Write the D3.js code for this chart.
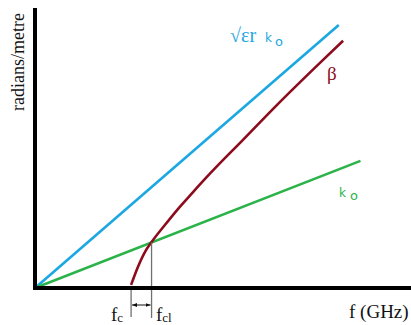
<!DOCTYPE html>
<html>
<head>
<meta charset="utf-8">
<script src="https://cdn.jsdelivr.net/npm/d3@7"></script>
<style>
  html, body { margin: 0; padding: 0; background: #fff; }
  svg { display: block; }
</style>
</head>
<body>
<svg id="chart" width="411" height="325"></svg>
<script>
// Dispersion diagram: free-space wavenumber, dielectric-scaled wavenumber and guide β
const lineK0 = [[0, 0], [10.5, 4.54]];              // k0
const lineSqrtErK0 = [[0, 0], [9.8, 9.39]];          // √εr k0
const betaCurve = [                                   // β (f, rad/m)
  [3.10, 0.11], [3.32, 0.75], [3.55, 1.29], [3.76, 1.64],
  [4.19, 2.25], [4.61, 2.82], [5.07, 3.39], [5.65, 4.09],
  [6.71, 5.29], [7.81, 6.54], [9.26, 8.11], [9.94, 8.83]
];
const fc = 3.10;      // cutoff frequency
const fc1 = 3.76;     // crossing of β and k0
const xLabel = "f (GHz)";
const yLabel = "radians/metre";

const svg = d3.select("#chart");

const x = d3.scaleLinear().domain([0, 12.13]).range([35, 411]);
const y = d3.scaleLinear().domain([0, 10]).range([288, 8]);

const blue = "#1ba7e2", red = "#8c0b1c", green = "#2bb34a";

const line = d3.line().x(d => x(d[0])).y(d => y(d[1]));

// data lines
svg.append("path").datum(lineSqrtErK0).attr("d", line)
  .attr("fill", "none").attr("stroke", blue).attr("stroke-width", 2.6);
svg.append("path").datum(lineK0).attr("d", line)
  .attr("fill", "none").attr("stroke", green).attr("stroke-width", 2.6);
svg.append("path").datum(betaCurve).attr("d", line.curve(d3.curveMonotoneX))
  .attr("fill", "none").attr("stroke", red).attr("stroke-width", 2.6);

// marker lines for fc and fc1
const k0At = f => lineK0[1][1] / lineK0[1][0] * f;
svg.append("line")
  .attr("x1", x(fc1)).attr("x2", x(fc1))
  .attr("y1", y(k0At(fc1))).attr("y2", 318)
  .attr("stroke", "#707070").attr("stroke-width", 1.3);
svg.append("line")
  .attr("x1", x(fc)).attr("x2", x(fc))
  .attr("y1", 290).attr("y2", 317)
  .attr("stroke", "#707070").attr("stroke-width", 1.3);

// double-headed dimension arrow
const defs = svg.append("defs");
defs.append("marker").attr("id", "ah").attr("viewBox", "0 0 10 10")
  .attr("refX", 10).attr("refY", 5).attr("markerWidth", 5).attr("markerHeight", 5)
  .attr("orient", "auto-start-reverse")
  .append("path").attr("d", "M0,1 L10,5 L0,9 Z").attr("fill", "#111");
svg.append("line")
  .attr("x1", x(fc) + 1).attr("x2", x(fc1) - 1)
  .attr("y1", 305).attr("y2", 305)
  .attr("stroke", "#111").attr("stroke-width", 1)
  .attr("marker-start", "url(#ah)").attr("marker-end", "url(#ah)");

// axes
svg.append("line").attr("x1", 33).attr("x2", 411).attr("y1", y(0)).attr("y2", y(0))
  .attr("stroke", "#000").attr("stroke-width", 4);
svg.append("line").attr("x1", x(0)).attr("x2", x(0)).attr("y1", 8).attr("y2", 290)
  .attr("stroke", "#000").attr("stroke-width", 4);

// axis titles
const serif = "'Liberation Serif', 'Times New Roman', serif";
svg.append("text").text(yLabel)
  .attr("transform", "translate(24,62) rotate(-90)")
  .attr("text-anchor", "middle")
  .attr("font-family", serif).attr("font-size", 18).attr("fill", "#111");
svg.append("text").text(xLabel)
  .attr("x", 349).attr("y", 318)
  .attr("font-family", serif).attr("font-size", 19).attr("fill", "#111");

// fc labels
const fcText = svg.append("text").attr("x", 111).attr("y", 321)
  .attr("font-family", serif).attr("font-size", 19).attr("fill", "#111");
fcText.append("tspan").text("f");
fcText.append("tspan").text("c").attr("font-size", 13).attr("dy", 1);
const fc1Text = svg.append("text").attr("x", 156).attr("y", 321)
  .attr("font-family", serif).attr("font-size", 19).attr("fill", "#111");
fc1Text.append("tspan").text("f");
fc1Text.append("tspan").text("cl").attr("font-size", 13).attr("dy", 1);

// series labels
const sans = "'DejaVu Sans', Verdana, sans-serif";
svg.append("text").text("√εr").attr("x", 230).attr("y", 42)
  .attr("font-family", serif).attr("font-size", 20).attr("fill", blue);
svg.append("text").text("k").attr("x", 265).attr("y", 42)
  .attr("font-family", sans).attr("font-size", 12).attr("fill", blue);
svg.append("text").text("o").attr("x", 275).attr("y", 46)
  .attr("font-family", sans).attr("font-size", 13).attr("fill", blue);

svg.append("text").text("β").attr("x", 327).attr("y", 80)
  .attr("font-family", serif).attr("font-size", 19).attr("fill", red);

svg.append("text").text("k").attr("x", 339).attr("y", 197)
  .attr("font-family", sans).attr("font-size", 12).attr("fill", green);
svg.append("text").text("o").attr("x", 350).attr("y", 200)
  .attr("font-family", sans).attr("font-size", 13).attr("fill", green);
</script>
</body>
</html>
